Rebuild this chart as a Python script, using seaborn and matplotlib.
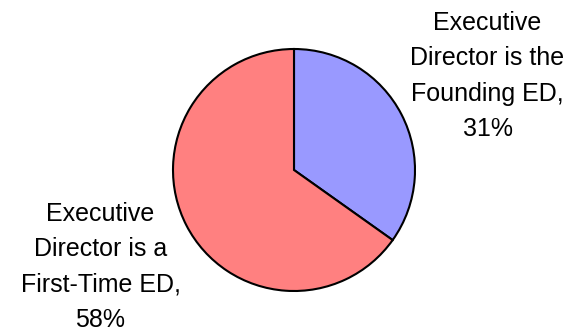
import matplotlib
matplotlib.use("Agg")
import matplotlib.pyplot as plt
import seaborn as sns

categories = ["Executive\nDirector is the\nFounding ED", "Executive\nDirector is a\nFirst-Time ED"]
values = [31, 58]
colors = ["#9999FF", "#FF8080"]

sns.set_style("white")
plt.rcParams["font.family"] = ["Liberation Sans", "DejaVu Sans"]

W, H = 581, 333
fig = plt.figure(figsize=(W / 100, H / 100), dpi=100)
ax = fig.add_axes([0, 0, 1, 1])

labels = [f"{c},\n{v}%" for c, v in zip(categories, values)]
wedges, texts = ax.pie(values, labels=labels, colors=colors, startangle=90,
                       counterclock=False, labeldistance=1.8,
                       wedgeprops=dict(edgecolor="black", linewidth=1.5),
                       textprops=dict(fontsize=18, color="black"))
r = 121.0
nudges = [(0.0, -6 / r), (0.0, 3 / r)]
for t, (dx, dy) in zip(texts, nudges):
    t.set_ha("center")
    t.set_va("center")
    t.set_multialignment("center")
    t.set_linespacing(1.6)
    x, y = t.get_position()
    t.set_position((x + dx, y + dy))

cx, cy = 294.0, 170.0
ax.set_xlim(-cx / r, (W - cx) / r)
ax.set_ylim(-(H - cy) / r, cy / r)
ax.set_aspect("equal")
ax.axis("off")

fig.savefig("out.png", dpi=100)
